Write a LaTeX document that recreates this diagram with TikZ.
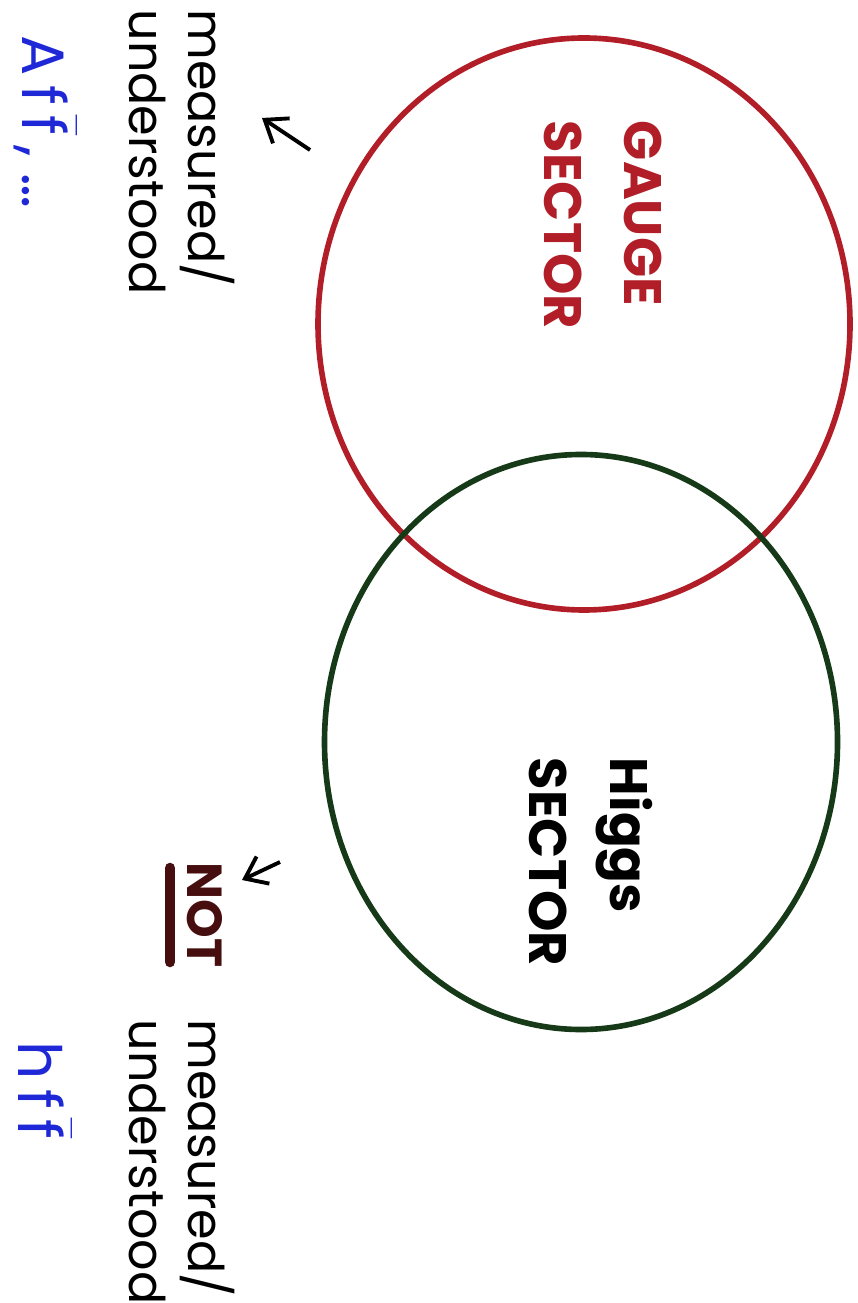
\documentclass[tikz,border=0pt]{standalone}
\usepackage{amsmath}
\usepackage{fontspec}
\setmainfont{Poppins}
\usepackage{tikz}
\usepackage{xcolor}
\usetikzlibrary{shapes.geometric, arrows.meta, positioning}
\definecolor{cGauge}{RGB}{178,30,40}
\definecolor{cHiggs}{RGB}{22,58,24}
\definecolor{cBlue}{RGB}{30,40,215}
\definecolor{cNot}{RGB}{70,14,14}
\tikzset{
	sector/.style   ={ellipse, draw, line width=1.6pt, minimum width=5.2cm, minimum height=5.7cm, inner sep=0pt},
	label/.style    ={rotate=-90, align=left, inner sep=1pt, font=\fontsize{14}{17}\selectfont},
	sectxt/.style   ={rotate=-90, align=left, inner sep=1pt, font=\fontsize{15}{23}\selectfont\bfseries},
	coupl/.style    ={rotate=-90, anchor=center, inner sep=1pt, cBlue, font=\fontsize{17}{20}\selectfont},
	pointer/.style  ={-{Straight Barb[length=2mm, width=3mm]}, line width=1.1pt},
}
\begin{document}
\begin{tikzpicture}
	\useasboundingbox (0,0) rectangle (8.57,-13.03);
	% the two sectors
	\node[sector, draw=cGauge, minimum width=5.32cm, minimum height=5.72cm] (gauge) at (5.84,-3.24) {};
	\node[sector, draw=cHiggs, minimum width=5.13cm, minimum height=5.75cm] (higgs) at (5.81,-7.42) {};
	\node[sectxt, cGauge] (gaugetxt) at (6.03,-2.25) {GAUGE\\SECTOR};
	\node[sectxt] (higgstxt) at (5.91,-8.62) {Higgs\\SECTOR};
	% labels on the left
	\node[label] (known) at (1.82,-1.52) {measured/\\understood};
	\node[label] (unknown) at (1.82,-11.62) {measured/\\understood};
	\node[label, cNot, font=\fontsize{14}{16}\selectfont\bfseries] (nottxt) at (2.05,-9.15) {NOT};
	\draw[cNot, line width=3pt, line cap=round] (1.70,-8.68) -- (1.70,-9.62);
	% pointers
	\coordinate (p1s) at (3.10,-1.50);
	\coordinate (p1e) at (2.62,-1.18);
	\coordinate (p2s) at (2.80,-8.62);
	\coordinate (p2e) at (2.42,-8.80);
	\draw[pointer] (p1s) -- (p1e);
	\draw[pointer] (p2s) -- (p2e);
	% couplings
	\node[coupl] (affbar) at (0.45,-1.22) {A\,f\,$\bar{\text{f}}$\,,\;\dots};
	\node[coupl] (hffbar) at (0.45,-10.90) {h\,f\,$\bar{\text{f}}$};
\end{tikzpicture}
\end{document}
